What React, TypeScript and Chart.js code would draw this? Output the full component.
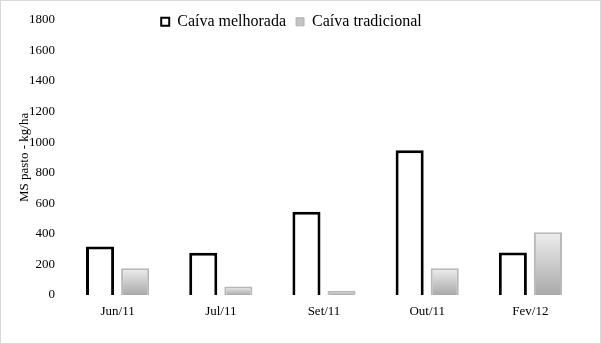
import React, { useEffect, useRef } from "react";
import { Chart, registerables } from "chart.js";

Chart.register(...registerables);

const categories = ["Jun/11", "Jul/11", "Set/11", "Out/11", "Fev/12"];
const melhorada = [317, 277, 545, 947, 278];
const tradicional = [175, 55, 28, 175, 410];
const yTicks = [0, 200, 400, 600, 800, 1000, 1200, 1400, 1600, 1800];
const seriesNames = ["Caíva melhorada", "Caíva tradicional"];
const yTitle = "MS pasto - kg/ha";

const FONT = "'Liberation Serif', 'Times New Roman', serif";

const legendUnclip = {
  id: "legendUnclip",
  afterLayout(chart: any) {
    if (chart.legend) {
      chart.legend.bottom = chart.legend.top + 40;
    }
  },
};

export default function App() {
  const ref = useRef<HTMLCanvasElement>(null);
  useEffect(() => {
    document.body.style.margin = "0";
    const ctx = ref.current!.getContext("2d")!;
    const tradFill = (c: any) => {
      const chart = c.chart;
      const ys = chart.scales?.y;
      if (!ys || c.type !== "data") return "#c8c8c8";
      const v = c.parsed?.y ?? 0;
      const top = ys.getPixelForValue(v);
      const bot = ys.getPixelForValue(0);
      if (!isFinite(top) || !isFinite(bot) || bot - top < 1) return "#c8c8c8";
      const g = chart.ctx.createLinearGradient(0, top, 0, bot);
      g.addColorStop(0, "#eeeeee");
      g.addColorStop(1, "#a9a9a9");
      return g;
    };
    const chart = new Chart(ctx, {
      type: "bar",
      data: {
        labels: categories,
        datasets: [
          {
            label: seriesNames[0],
            data: melhorada,
            backgroundColor: "#ffffff",
            borderColor: "#000000",
            borderWidth: 3,
            categoryPercentage: 0.68,
            barPercentage: 0.8,
          },
          {
            label: seriesNames[1],
            data: tradicional,
            backgroundColor: tradFill,
            borderColor: "#b8b8b8",
            borderWidth: 2,
            categoryPercentage: 0.68,
            barPercentage: 0.8,
          },
        ],
      },
      plugins: [legendUnclip],
      options: {
        animation: false,
        responsive: false,
        layout: { padding: { left: 0, right: 18, top: 0, bottom: 0 } },
        plugins: {
          tooltip: { enabled: false },
          legend: {
            position: "top",
            maxHeight: 16,
            labels: {
              color: "#000",
              font: { family: FONT, size: 16 },
              boxWidth: 8,
              boxHeight: 8,
              padding: 10,
              generateLabels: (ch: any) => {
                const items = Chart.defaults.plugins.legend.labels.generateLabels(ch);
                items.forEach((it: any, i: number) => {
                  if (i === 0) {
                    it.fillStyle = "#ffffff";
                    it.strokeStyle = "#000000";
                    it.lineWidth = 2;
                  } else {
                    it.fillStyle = "#c4c4c4";
                    it.strokeStyle = "#b0b0b0";
                    it.lineWidth = 1;
                  }
                });
                return items;
              },
            },
          },
        },
        scales: {
          x: {
            grid: { display: false, drawTicks: false },
            border: { display: false },
            ticks: { color: "#000", font: { family: FONT, size: 13 }, padding: 9 },
            afterFit: (s: any) => {
              s.height = 48;
            },
          },
          y: {
            min: 0,
            max: 1800,
            grid: { display: false, drawTicks: false },
            border: { display: false },
            afterBuildTicks: (s: any) => {
              s.ticks = yTicks.map((v) => ({ value: v }));
            },
            ticks: {
              color: "#000",
              font: { family: FONT, size: 13 },
              padding: 11,
              callback: (v: any) => String(v),
            },
            title: {
              display: true,
              text: yTitle,
              color: "#000",
              font: { family: FONT, size: 13 },
              padding: { top: 16, bottom: 0 },
            },
            afterFit: (s: any) => {
              s.width = 65;
            },
          },
        },
      },
    });
    return () => chart.destroy();
  }, []);
  return (
    <div style={{ width: 599, height: 342, border: "1px solid #d9d9d9", background: "#fff" }}>
      <canvas ref={ref} width={599} height={342} style={{ display: "block" }} />
    </div>
  );
}
